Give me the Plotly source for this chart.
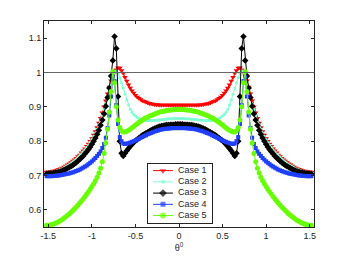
import plotly.graph_objects as go

theta = [-1.52, -1.50, -1.48, -1.46, -1.44, -1.42, -1.40, -1.38, -1.36, -1.34,
         -1.32, -1.30, -1.28, -1.26, -1.24, -1.22, -1.20, -1.18, -1.16, -1.14,
         -1.12, -1.10, -1.08, -1.06, -1.04, -1.02, -1.00, -0.98, -0.96, -0.94,
         -0.92, -0.90, -0.88, -0.86, -0.84, -0.82, -0.80, -0.78, -0.76, -0.74,
         -0.72, -0.70, -0.68, -0.66, -0.64, -0.62, -0.60, -0.58, -0.56, -0.54,
         -0.52, -0.50, -0.48, -0.46, -0.44, -0.42, -0.40, -0.38, -0.36, -0.34,
         -0.32, -0.30, -0.28, -0.26, -0.24, -0.22, -0.20, -0.18, -0.16, -0.14,
         -0.12, -0.10, -0.08, -0.06, -0.04, -0.02, 0.00,
         0.02, 0.04, 0.06, 0.08, 0.10, 0.12,
         0.14, 0.16, 0.18, 0.20, 0.22, 0.24, 0.26, 0.28, 0.30, 0.32,
         0.34, 0.36, 0.38, 0.40, 0.42, 0.44, 0.46, 0.48, 0.50, 0.52,
         0.54, 0.56, 0.58, 0.60, 0.62, 0.64, 0.66, 0.68, 0.70, 0.72,
         0.74, 0.76, 0.78, 0.80, 0.82, 0.84, 0.86, 0.88, 0.90, 0.92,
         0.94, 0.96, 0.98, 1.00, 1.02, 1.04, 1.06, 1.08, 1.10, 1.12,
         1.14, 1.16, 1.18, 1.20, 1.22, 1.24, 1.26, 1.28, 1.30, 1.32,
         1.34, 1.36, 1.38, 1.40, 1.42, 1.44, 1.46, 1.48, 1.50, 1.52]

case1 = [0.710, 0.710, 0.711, 0.712, 0.713, 0.714, 0.716, 0.718, 0.720, 0.722,
         0.725, 0.728, 0.731, 0.734, 0.738, 0.742, 0.746, 0.750, 0.755, 0.760,
         0.766, 0.772, 0.778, 0.785, 0.792, 0.800, 0.808, 0.818, 0.828, 0.840,
         0.853, 0.867, 0.883, 0.900, 0.918, 0.938, 0.958, 0.976, 0.990, 1.000,
         1.008, 1.014, 1.013, 1.006, 0.998, 0.986, 0.975, 0.964, 0.955, 0.947,
         0.940, 0.934, 0.929, 0.925, 0.921, 0.918, 0.916, 0.914, 0.912, 0.910,
         0.909, 0.908, 0.907, 0.906, 0.906, 0.905, 0.905, 0.905, 0.905, 0.905,
         0.905, 0.905, 0.905, 0.905, 0.905, 0.905, 0.905,
         0.905, 0.905, 0.905, 0.905, 0.905, 0.905,
         0.905, 0.905, 0.905, 0.905, 0.905, 0.906, 0.906, 0.907, 0.908, 0.909,
         0.910, 0.912, 0.914, 0.916, 0.918, 0.921, 0.925, 0.929, 0.934, 0.940,
         0.947, 0.955, 0.964, 0.975, 0.986, 0.998, 1.006, 1.013, 1.014, 1.008,
         1.000, 0.990, 0.976, 0.958, 0.938, 0.918, 0.900, 0.883, 0.867, 0.853,
         0.840, 0.828, 0.818, 0.808, 0.800, 0.792, 0.785, 0.778, 0.772, 0.766,
         0.760, 0.755, 0.750, 0.746, 0.742, 0.738, 0.734, 0.731, 0.728, 0.725,
         0.722, 0.720, 0.718, 0.716, 0.714, 0.713, 0.712, 0.711, 0.710, 0.710]

case2 = [0.708, 0.708, 0.709, 0.710, 0.711, 0.712, 0.714, 0.716, 0.718, 0.720,
         0.723, 0.726, 0.729, 0.732, 0.736, 0.740, 0.744, 0.748, 0.753, 0.758,
         0.763, 0.769, 0.775, 0.782, 0.789, 0.797, 0.805, 0.814, 0.824, 0.835,
         0.848, 0.861, 0.876, 0.892, 0.908, 0.926, 0.945, 0.965, 0.985, 1.000,
         1.005, 0.998, 0.985, 0.970, 0.955, 0.937, 0.920, 0.905, 0.893, 0.884,
         0.878, 0.873, 0.869, 0.866, 0.864, 0.862, 0.861, 0.860, 0.860, 0.860,
         0.860, 0.860, 0.861, 0.861, 0.862, 0.862, 0.863, 0.863, 0.864, 0.864,
         0.865, 0.865, 0.865, 0.866, 0.866, 0.866, 0.866,
         0.866, 0.866, 0.866, 0.865, 0.865, 0.865,
         0.864, 0.864, 0.863, 0.863, 0.862, 0.862, 0.861, 0.861, 0.860, 0.860,
         0.860, 0.860, 0.860, 0.861, 0.862, 0.864, 0.866, 0.869, 0.873, 0.878,
         0.884, 0.893, 0.905, 0.920, 0.937, 0.955, 0.970, 0.985, 0.998, 1.005,
         1.000, 0.985, 0.965, 0.945, 0.926, 0.908, 0.892, 0.876, 0.861, 0.848,
         0.835, 0.824, 0.814, 0.805, 0.797, 0.789, 0.782, 0.775, 0.769, 0.763,
         0.758, 0.753, 0.748, 0.744, 0.740, 0.736, 0.732, 0.729, 0.726, 0.723,
         0.720, 0.718, 0.716, 0.714, 0.712, 0.711, 0.710, 0.709, 0.708, 0.708]

case3 = [0.705, 0.705, 0.706, 0.706, 0.707, 0.708, 0.709, 0.710, 0.712, 0.714,
         0.716, 0.718, 0.721, 0.724, 0.727, 0.730, 0.734, 0.738, 0.742, 0.747,
         0.752, 0.757, 0.763, 0.769, 0.776, 0.783, 0.791, 0.800, 0.809, 0.820,
         0.832, 0.846, 0.862, 0.880, 0.902, 0.927, 0.955, 0.990, 1.035, 1.105,
         1.070, 0.930, 0.800, 0.765, 0.757, 0.765, 0.772, 0.779, 0.785, 0.791,
         0.796, 0.801, 0.805, 0.809, 0.813, 0.817, 0.820, 0.823, 0.826, 0.829,
         0.832, 0.835, 0.837, 0.839, 0.841, 0.843, 0.844, 0.845, 0.846, 0.847,
         0.847, 0.848, 0.848, 0.848, 0.849, 0.849, 0.849,
         0.849, 0.849, 0.848, 0.848, 0.848, 0.847,
         0.847, 0.846, 0.845, 0.844, 0.843, 0.841, 0.839, 0.837, 0.835, 0.832,
         0.829, 0.826, 0.823, 0.820, 0.817, 0.813, 0.809, 0.805, 0.801, 0.796,
         0.791, 0.785, 0.779, 0.772, 0.765, 0.757, 0.765, 0.800, 0.930, 1.070,
         1.105, 1.035, 0.990, 0.955, 0.927, 0.902, 0.880, 0.862, 0.846, 0.832,
         0.820, 0.809, 0.800, 0.791, 0.783, 0.776, 0.769, 0.763, 0.757, 0.752,
         0.747, 0.742, 0.738, 0.734, 0.730, 0.727, 0.724, 0.721, 0.718, 0.716,
         0.714, 0.712, 0.710, 0.709, 0.708, 0.707, 0.706, 0.706, 0.705, 0.705]

case4 = [0.698, 0.698, 0.698, 0.698, 0.699, 0.699, 0.700, 0.700, 0.701, 0.702,
         0.703, 0.704, 0.705, 0.706, 0.708, 0.709, 0.711, 0.713, 0.715, 0.717,
         0.720, 0.723, 0.726, 0.729, 0.733, 0.737, 0.741, 0.746, 0.751, 0.757,
         0.763, 0.770, 0.780, 0.792, 0.810, 0.838, 0.875, 0.930, 0.988, 0.975,
         0.905, 0.850, 0.812, 0.800, 0.793, 0.792, 0.793, 0.794, 0.796, 0.798,
         0.800, 0.802, 0.805, 0.807, 0.810, 0.812, 0.815, 0.817, 0.820, 0.822,
         0.824, 0.826, 0.828, 0.830, 0.831, 0.833, 0.834, 0.835, 0.836, 0.836,
         0.837, 0.837, 0.838, 0.838, 0.838, 0.838, 0.838,
         0.838, 0.838, 0.838, 0.838, 0.837, 0.837,
         0.836, 0.836, 0.835, 0.834, 0.833, 0.831, 0.830, 0.828, 0.826, 0.824,
         0.822, 0.820, 0.817, 0.815, 0.812, 0.810, 0.807, 0.805, 0.802, 0.800,
         0.798, 0.796, 0.794, 0.793, 0.792, 0.793, 0.800, 0.812, 0.850, 0.905,
         0.975, 0.988, 0.930, 0.875, 0.838, 0.810, 0.792, 0.780, 0.770, 0.763,
         0.757, 0.751, 0.746, 0.741, 0.737, 0.733, 0.729, 0.726, 0.723, 0.720,
         0.717, 0.715, 0.713, 0.711, 0.709, 0.708, 0.706, 0.705, 0.704, 0.703,
         0.702, 0.701, 0.700, 0.700, 0.699, 0.699, 0.698, 0.698, 0.698, 0.698]

case5 = [0.555, 0.555, 0.556, 0.557, 0.559, 0.561, 0.563, 0.566, 0.569, 0.572,
         0.576, 0.580, 0.584, 0.588, 0.593, 0.598, 0.603, 0.608, 0.614, 0.620,
         0.626, 0.632, 0.639, 0.646, 0.653, 0.660, 0.668, 0.676, 0.685, 0.695,
         0.707, 0.721, 0.740, 0.764, 0.795, 0.835, 0.885, 0.945, 1.003, 0.970,
         0.900, 0.862, 0.840, 0.830, 0.827, 0.827, 0.829, 0.832, 0.835, 0.839,
         0.843, 0.847, 0.851, 0.855, 0.858, 0.862, 0.865, 0.868, 0.870, 0.873,
         0.875, 0.877, 0.879, 0.881, 0.883, 0.885, 0.886, 0.887, 0.888, 0.889,
         0.890, 0.891, 0.891, 0.892, 0.892, 0.892, 0.892,
         0.892, 0.892, 0.892, 0.891, 0.891, 0.890,
         0.889, 0.888, 0.887, 0.886, 0.885, 0.883, 0.881, 0.879, 0.877, 0.875,
         0.873, 0.870, 0.868, 0.865, 0.862, 0.858, 0.855, 0.851, 0.847, 0.843,
         0.839, 0.835, 0.832, 0.829, 0.827, 0.827, 0.830, 0.840, 0.862, 0.900,
         0.970, 1.003, 0.945, 0.885, 0.835, 0.795, 0.764, 0.740, 0.721, 0.707,
         0.695, 0.685, 0.676, 0.668, 0.660, 0.653, 0.646, 0.639, 0.632, 0.626,
         0.620, 0.614, 0.608, 0.603, 0.598, 0.593, 0.588, 0.584, 0.580, 0.576,
         0.572, 0.569, 0.566, 0.563, 0.561, 0.559, 0.557, 0.556, 0.555, 0.555]

for s in (case1, case2, case3, case4, case5):
    assert len(s) == len(theta), len(s)

names = ["Case 1", "Case 2", "Case 3", "Case 4", "Case 5"]
colors = ["#ff0000", "#7fffd4", "#000000", "#1f3fff", "#66ff00"]
symbols = ["triangle-down", "circle", "diamond", "square", "circle"]
msizes = [5, 3, 5, 4, 5]
series = [case1, case2, case3, case4, case5]

x_tickvals = [-1.5, -1, -0.5, 0, 0.5, 1, 1.5]
x_ticktext = ["-1.5", "-1", "-0.5", "0", "0.5", "1", "1.5"]
y_tickvals = [0.6, 0.7, 0.8, 0.9, 1.0, 1.1]
y_ticktext = ["0.6", "0.7", "0.8", "0.9", "1", "1.1"]

INK = "#262626"
fig = go.Figure()
for name, ys, c, sym, ms in zip(names, series, colors, symbols, msizes):
    fig.add_trace(go.Scatter(
        x=theta, y=ys, name=name, mode="lines+markers", showlegend=False,
        line=dict(color=c, width=1),
        marker=dict(symbol=sym, size=ms, color=c, line=dict(width=0)),
        xaxis="x", yaxis="y",
    ))

fig.add_hline(y=1, line=dict(color="#666666", width=1), xref="x", yref="y")

# legend key drawn in a small inset axis (Matlab-style compact legend)
n = len(names)
for i, (name, c, sym, ms) in enumerate(zip(names, colors, symbols, msizes)):
    row = n - 1 - i
    fig.add_trace(go.Scatter(
        x=[0.08, 0.235, 0.39], y=[row, row, row], mode="lines+markers",
        line=dict(color=c, width=1),
        marker=dict(symbol=sym, size=[0, ms + 1, 0], color=c, line=dict(width=0)),
        showlegend=False, hoverinfo="skip", xaxis="x2", yaxis="y2",
    ))
    fig.add_trace(go.Scatter(
        x=[0.47], y=[row], mode="text", text=[name], textposition="middle right",
        textfont=dict(size=9, color=INK),
        showlegend=False, hoverinfo="skip", xaxis="x2", yaxis="y2",
    ))

axis_common = dict(
    showgrid=False, zeroline=False, ticks="inside", ticklen=3,
    showline=True, linecolor=INK, linewidth=1, mirror="ticks",
    tickcolor=INK, tickfont=dict(size=9, color=INK),
)

# the page body adds an 8 px offset, so the figure is 8 px smaller and margins compensate
fig.update_layout(
    width=338, height=252,
    margin=dict(l=36, r=32, t=12, b=29),
    paper_bgcolor="white", plot_bgcolor="white",
    font=dict(family="Liberation Sans, Arial, sans-serif", size=9, color=INK),
    showlegend=False,
    xaxis=dict(range=[-1.55, 1.55], tickvals=x_tickvals, ticktext=x_ticktext,
               title=dict(text="θ<sup>0</sup>", font=dict(size=9, color=INK), standoff=1),
               domain=[0, 1], **axis_common),
    yaxis=dict(range=[0.55, 1.15], tickvals=y_tickvals, ticktext=y_ticktext,
               domain=[0, 1], **axis_common),
    xaxis2=dict(domain=[0.385, 0.622], range=[0, 1], anchor="y2",
                showgrid=False, zeroline=False, showticklabels=False, ticks="",
                showline=True, mirror=True, linecolor=INK, linewidth=1, fixedrange=True),
    yaxis2=dict(domain=[0.019, 0.308], range=[-0.67, 4.63], anchor="x2",
                showgrid=False, zeroline=False, showticklabels=False, ticks="",
                showline=True, mirror=True, linecolor=INK, linewidth=1, fixedrange=True),
)

fig.write_html("out.html")
